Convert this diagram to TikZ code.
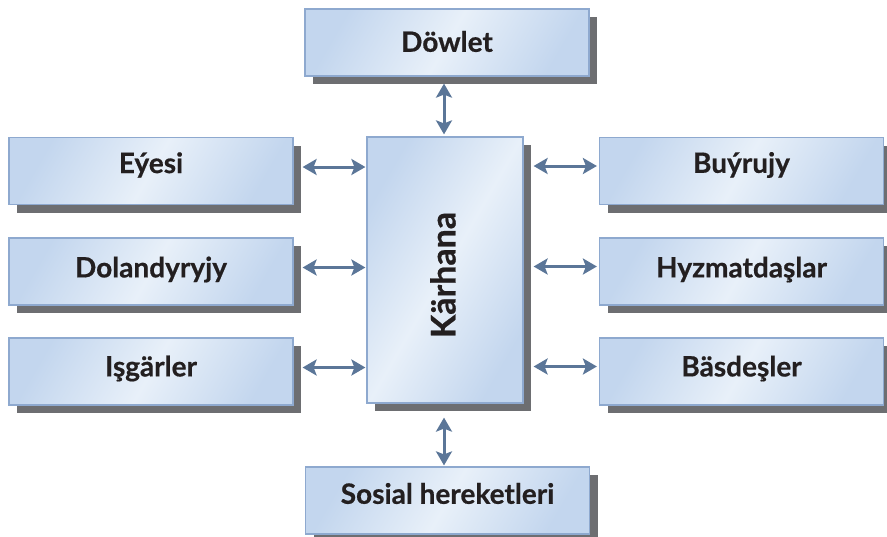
\documentclass[tikz,border=0pt]{standalone}
\usepackage{fontspec}
\setmainfont{Lato}[BoldFeatures={FakeBold=0.6}]
\usetikzlibrary{shadows,arrows.meta}
\definecolor{boxline}{HTML}{8EA9CF}
\definecolor{boxdark}{HTML}{C3D6EE}
\definecolor{boxlight}{HTML}{E8F0F9}
\definecolor{shadowgray}{HTML}{6D6E71}
\definecolor{arrowblue}{HTML}{5B7698}
\definecolor{txt}{HTML}{231F20}
\newcommand{\up}[2]{\raisebox{#1pt}[\height][\depth]{#2}}
\tikzset{
  lbl/.style={font=\bfseries\fontsize{28}{28}\selectfont, text=txt},
  box/.style={lbl, draw=boxline, line width=1.2pt, left color=boxdark, right color=boxdark, middle color=boxlight, shading angle=60,
    minimum width=284pt, minimum height=67pt, inner sep=0pt,
    drop shadow={shadow xshift=8pt, shadow yshift=-8pt, fill=shadowgray, opacity=1}},
  arr/.style={draw=arrowblue, line width=3pt, {Stealth[length=14pt,width=16pt,inset=3pt]}-{Stealth[length=14pt,width=16pt,inset=3pt]}}
}
\begin{document}
\begin{tikzpicture}[x=1pt,y=-1pt]
\useasboundingbox (0,0) rectangle (887,536);
\node[box] (dowlet) at (447,42.5) {\up{1}{Döwlet}};
\node[box] (eyesi) at (151,171) {\up{6}{Eýesi}};
\node[box] (dol) at (151,271.5) {\up{2}{Dolandyryjy}};
\node[box] (isg) at (151,371.5) {\up{3}{Işgärler}};
\node[box] (buy) at (741.5,171) {\up{6}{Buýrujy}};
\node[box] (hyz) at (741.5,271.5) {\up{2}{Hyzmatdaşlar}};
\node[box] (bas) at (741.5,371.5) {\up{3}{Bäsdeşler}};
\node[box] (sos) at (447.5,500.5) {\up{7}{Sosial hereketleri}};
\node[box, minimum width=156pt, minimum height=266pt] (kar) at (445,270) {};
\node[lbl, font=\bfseries\fontsize{34}{34}\selectfont, rotate=90] (kartext) at ([xshift=-2pt,yshift=-5pt]kar.center) {Kärhana};
\coordinate (tA) at (444,0);
\draw[arr, shorten <=7pt, shorten >=2pt] (dowlet.south -| tA) -- (kar.north -| tA);
\draw[arr, shorten <=14pt, shorten >=1pt] (kar.south -| tA) -- (sos.north -| tA);
\foreach \n in {eyesi,dol,isg}{
  \draw[arr, shorten <=9pt, shorten >=1pt] ([yshift=4pt]\n.east) -- ([yshift=4pt]kar.west |- \n.east);
}
\foreach \n in {buy,hyz,bas}{
  \draw[arr, shorten <=10pt, shorten >=2pt] ([yshift=5pt]kar.east |- \n.west) -- ([yshift=5pt]\n.west);
}
\end{tikzpicture}
\end{document}
